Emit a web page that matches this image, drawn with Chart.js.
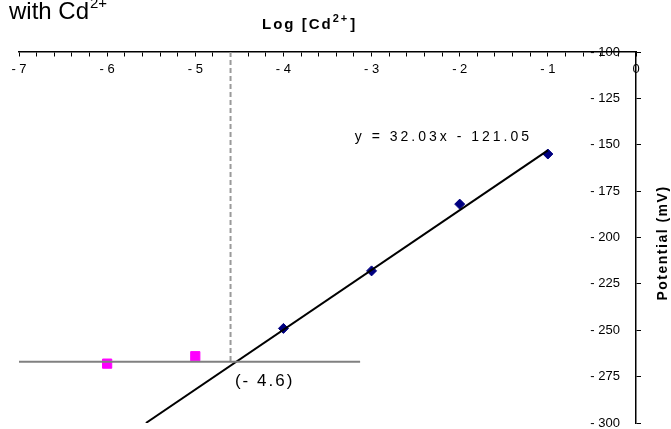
<!DOCTYPE html>
<html>
<head>
<meta charset="utf-8">
<script src="https://cdn.jsdelivr.net/npm/chart.js@4/dist/chart.umd.min.js"></script>
<style>
  html, body { margin: 0; padding: 0; background: #fff; overflow: hidden; }
</style>
</head>
<body>
<canvas id="graf" width="671" height="429"></canvas>
<script>
// calibration points (Cd2+ standards)
const logConc = [-4, -3, -2, -1];
const potential = [-249, -218, -182, -155];
// low concentration points
const lowConc = [-6, -5];
const lowPotential = [-268, -264];
// trend line ends
const fitX = [-5.56, -1];
const fitY = [-300, -153];
// baseline and the dashed drop line at the intersection
const baseX = [-7, -3.13];
const baseY = [-267, -267];
const dropX = [-4.6, -4.6];
const dropY = [-100, -267];
// tick labels
const xTickLabels = [-7, -6, -5, -4, -3, -2, -1, 0];
const yTickLabels = [-100, -125, -150, -175, -200, -225, -250, -275, -300];

const pts = (xs, ys) => xs.map((x, i) => ({x: x, y: ys[i]}));
const etiqueta = (n) => n < 0 ? '- ' + Math.abs(n) : String(n);

const textos = {
  id: 'textos',
  afterDraw(chart) {
    const ctx = chart.ctx;
    const sx = chart.scales.x, sy = chart.scales.y;
    ctx.save();
    ctx.fillStyle = '#000';
    ctx.textBaseline = 'alphabetic';
    ctx.textAlign = 'left';

    // cut-off caption at top left
    ctx.font = '24px Arial, "Liberation Sans"';
    ctx.fillText('with Cd', 9, 19);
    let w = ctx.measureText('with Cd').width;
    ctx.font = '15px Arial, "Liberation Sans"';
    ctx.fillText('2+', 9 + w + 1, 8);

    // axis title on top
    ctx.letterSpacing = '2px';
    ctx.font = 'bold 15px Arial, "Liberation Sans"';
    ctx.fillText('Log [Cd', 262, 29);
    w = ctx.measureText('Log [Cd').width;
    ctx.font = 'bold 11px Arial, "Liberation Sans"';
    ctx.fillText('2+', 262 + w, 22);
    const w2 = ctx.measureText('2+').width;
    ctx.font = 'bold 15px Arial, "Liberation Sans"';
    ctx.fillText(']', 262 + w + w2 + 1, 29);

    // y axis title on the right
    ctx.save();
    ctx.translate(667, 243);
    ctx.rotate(-Math.PI / 2);
    ctx.textAlign = 'center';
    ctx.letterSpacing = '1.5px';
    ctx.font = 'bold 14px Arial, "Liberation Sans"';
    ctx.fillText('Potential (mV)', 0, 0);
    ctx.restore();

    // equation of the trend line
    ctx.letterSpacing = '3px';
    ctx.font = '14px Arial, "Liberation Sans"';
    ctx.fillText('y = 32.03x - 121.05', sx.getPixelForValue(-3.19), sy.getPixelForValue(-148));

    // intersection value
    ctx.letterSpacing = '2px';
    ctx.font = '17px Arial, "Liberation Sans"';
    ctx.fillText('(- 4.6)', sx.getPixelForValue(-4.55), sy.getPixelForValue(-280));
    ctx.restore();
  }
};

const grafico = new Chart(document.getElementById('graf'), {
  type: 'scatter',
  data: {
    datasets: [
      {
        label: 'baseline',
        data: pts(baseX, baseY),
        showLine: true,
        borderColor: '#808080',
        borderWidth: 2,
        pointRadius: 0
      },
      {
        label: 'drop',
        data: pts(dropX, dropY),
        showLine: true,
        borderColor: '#9a9a9a',
        borderWidth: 2,
        borderDash: [5, 3],
        pointRadius: 0
      },
      {
        label: 'trend',
        data: pts(fitX, fitY),
        showLine: true,
        borderColor: '#000',
        borderWidth: 2,
        pointRadius: 0
      },
      {
        label: 'Cd2+',
        data: pts(logConc, potential),
        pointStyle: 'rectRot',
        pointRadius: 5,
        backgroundColor: '#000080',
        borderColor: '#000080',
        borderWidth: 1
      },
      {
        label: 'low',
        data: pts(lowConc, lowPotential),
        pointStyle: 'rect',
        pointRadius: 6.5,
        backgroundColor: '#ff00ff',
        borderColor: '#ff00ff',
        borderWidth: 1
      }
    ]
  },
  options: {
    responsive: false,
    animation: false,
    devicePixelRatio: 1,
    layout: { autoPadding: false, padding: { top: 52, left: 19, right: 30, bottom: 6 } },
    plugins: {
      legend: { display: false },
      tooltip: { enabled: false }
    },
    scales: {
      x: {
        type: 'linear',
        min: -7,
        max: 0,
        position: { y: -100 },
        afterFit: (s) => { s.height = 0; },
        border: { color: '#000', width: 1.5 },
        grid: { drawOnChartArea: false, tickLength: 4, tickColor: '#000', tickWidth: 1 },
        ticks: {
          stepSize: 0.2,
          autoSkip: false,
          maxRotation: 0,
          padding: 6,
          color: '#000',
          font: { family: 'Arial, "Liberation Sans"', size: 13 },
          callback: (v) => {
            const r = Math.round(v);
            return (Math.abs(v - r) < 1e-6 && xTickLabels.includes(r)) ? etiqueta(r) : '';
          }
        }
      },
      y: {
        type: 'linear',
        min: -300,
        max: -100,
        position: 'right',
        afterFit: (s) => { s.width = 5; },
        border: { color: '#000', width: 1.5 },
        grid: { drawOnChartArea: false, tickLength: 5, tickColor: '#000', tickWidth: 1 },
        ticks: {
          stepSize: 25,
          mirror: true,
          padding: -16,
          color: '#000',
          font: { family: 'Arial, "Liberation Sans"', size: 13 },
          callback: (v) => yTickLabels.includes(v) ? etiqueta(v) : ''
        }
      }
    }
  },
  plugins: [textos]
});
</script>
</body>
</html>
